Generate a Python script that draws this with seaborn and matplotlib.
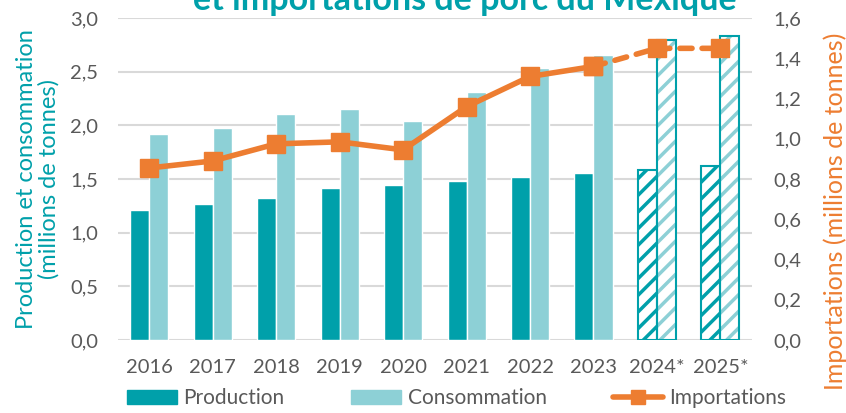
import matplotlib.pyplot as plt
import matplotlib.patches as mpatches
import matplotlib.lines as mlines
from matplotlib.ticker import FuncFormatter
import numpy as np
import pandas as pd
import seaborn as sns

# Data
years = ['2016', '2017', '2018', '2019', '2020', '2021', '2022', '2023', '2024*', '2025*']
production = [1.21, 1.27, 1.32, 1.42, 1.44, 1.48, 1.52, 1.56, 1.58, 1.62]
consommation = [1.92, 1.98, 2.11, 2.15, 2.04, 2.31, 2.54, 2.66, 2.80, 2.83]
importations = [0.855, 0.89, 0.975, 0.985, 0.945, 1.16, 1.31, 1.36, 1.45, 1.45]
n_forecast = 2

teal = '#00A0AA'
light_teal = '#8DD0D6'
orange = '#ED7D31'
grey_text = '#595959'

sns.set_style('white')
plt.rcParams['font.family'] = ['Lato', 'DejaVu Sans']
plt.rcParams['hatch.linewidth'] = 2.5

df = pd.DataFrame({
    'year': years * 2,
    'value': production + consommation,
    'serie': ['Production'] * len(years) + ['Consommation'] * len(years),
})

fig = plt.figure(figsize=(8.46, 4.13), dpi=100)
ax = fig.add_axes([0.139, 0.177, 0.750, 0.779])

sns.barplot(ax=ax, data=df, x='year', y='value', hue='serie',
            palette=[teal, light_teal], width=0.6, gap=0, legend=False,
            saturation=1, zorder=2)

# hatched forecast bars
for cont, hcol in zip(ax.containers, [teal, light_teal]):
    for bar in list(cont)[-n_forecast:]:
        bar.set_facecolor('white')
        bar.set_edgecolor(hcol)
        bar.set_hatch('//')
        bar.set_linewidth(0)
        ax.add_patch(mpatches.Rectangle((bar.get_x(), bar.get_y()), bar.get_width(),
                                        bar.get_height(), fill=False, edgecolor=teal,
                                        linewidth=1.5, zorder=3))

fmt = FuncFormatter(lambda v, p: f'{v:.1f}'.replace('.', ','))

ax.set_ylim(0, 3.0)
ax.set_xlim(-0.5, len(years) - 0.5)
ax.set_yticks(np.arange(0, 3.01, 0.5))
ax.yaxis.set_major_formatter(fmt)
ax.grid(axis='y', color='#D9D9D9', linewidth=1.5, zorder=0)
ax.set_axisbelow(True)
for s in ax.spines.values():
    s.set_visible(False)
ax.tick_params(axis='both', length=0, labelsize=14.5, labelcolor=grey_text)
ax.tick_params(axis='y', pad=14)
ax.tick_params(axis='x', pad=14)
ax.set_xlabel('')
ax.set_ylabel('Production et consommation\n(millions de tonnes)', color=teal,
              fontsize=17, linespacing=1.05)
ax.yaxis.set_label_coords(-0.091, 0.5)

# importations on the secondary axis
ax2 = ax.twinx()
x = np.arange(len(years))
split = len(years) - n_forecast - 1
ax2.plot(x[:split + 1], importations[:split + 1], color=orange, linewidth=4,
         marker='s', markersize=13, zorder=5)
ax2.plot(x[split:], importations[split:], color=orange, linewidth=4,
         linestyle=(0, (2.2, 1.8)), dash_capstyle='round', marker='s',
         markersize=13, zorder=5)
ax2.set_ylim(0, 1.6)
ax2.set_yticks(np.arange(0, 1.61, 0.2))
ax2.yaxis.set_major_formatter(fmt)
for s in ax2.spines.values():
    s.set_visible(False)
ax2.tick_params(axis='y', length=0, labelsize=14.5, labelcolor=grey_text, pad=15)
ax2.set_ylabel('Importations (millions de tonnes)', color=orange, fontsize=18)
ax2.yaxis.set_label_coords(1.113, 0.40)

fig.text(0.55, 1 - 10 / 413, 'et importations de porc du Mexique', ha='center',
         va='baseline', fontsize=24.5, fontweight='bold', color=teal)

handles = [
    mpatches.Patch(color=teal, label='Production'),
    mpatches.Patch(color=light_teal, label='Consommation'),
    mlines.Line2D([], [], color=orange, linewidth=4, marker='s', markersize=10,
                  label='Importations'),
]
leg = fig.legend(handles=handles, loc='center', bbox_to_anchor=(0.54, 0.036), ncol=3,
                 frameon=False, fontsize=15, handlelength=2.4, handleheight=0.7,
                 columnspacing=3.2, handletextpad=0.3)
for t in leg.get_texts():
    t.set_color(grey_text)

fig.savefig('out.png', dpi=100)
